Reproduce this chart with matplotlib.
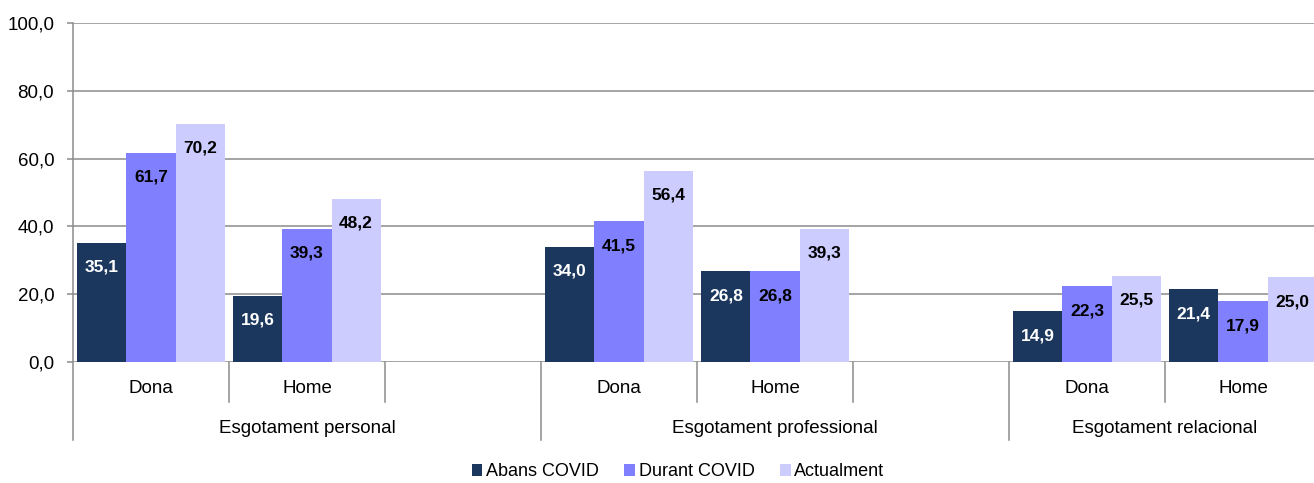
import matplotlib.pyplot as plt
import matplotlib.font_manager as fm
from matplotlib.patches import Patch
import numpy as np

# fonts: narrow Arial-like if available
names = {f.name for f in fm.fontManager.ttflist}
narrow = "Liberation Sans Narrow" if "Liberation Sans Narrow" in names else "Liberation Sans"
plt.rcParams['font.family'] = [narrow, 'DejaVu Sans']

groups = ["Esgotament personal", "Esgotament professional", "Esgotament relacional"]
subcats = ["Dona", "Home"]
series = ["Abans COVID", "Durant COVID", "Actualment"]
abans = [35.1, 19.6, 34.0, 26.8, 14.9, 21.4]
durant = [61.7, 39.3, 41.5, 26.8, 22.3, 17.9]
actual = [70.2, 48.2, 56.4, 39.3, 25.5, 25.0]
colors = ["#1B375E", "#8080FF", "#CCCCFF"]
label_colors = ["white", "black", "black"]
yticks = [0, 20, 40, 60, 80, 100]

fig = plt.figure(figsize=(13.14, 4.83), dpi=100)
W, H = 1314, 483
left, right, top, bottom = 73, 1321, 23, 362
ax = fig.add_axes([left / W, 1 - bottom / H, (right - left) / W, (bottom - top) / H])

# slot positions: each group uses Dona, Home + one empty slot
slots = [0, 1, 3, 4, 6, 7]
centers = np.array(slots) + 0.5
bw = 0.315
grid_c = "#8C8C8C"

for yv in yticks:
    ax.axhline(yv, color=grid_c, lw=1.1, zorder=0)

for k, (vals, c, lc) in enumerate(zip([abans, durant, actual], colors, label_colors)):
    xs = centers + (k - 1) * bw
    ax.bar(xs, vals, width=bw, color=c, zorder=2)
    for x, v in zip(xs, vals):
        ax.text(x, v - 7.2, f"{v:.1f}".replace(".", ","), ha="center", va="center",
                fontsize=12.5, fontweight="bold", color=lc, zorder=3)

ax.set_xlim(0, 8)
ax.set_ylim(0, 100)
for s in ax.spines.values():
    s.set_visible(False)
ax.set_xticks([])
ax.set_yticks(yticks)
ax.set_yticklabels([f"{v:.1f}".replace(".", ",") for v in yticks], fontsize=13.5)
ax.tick_params(axis="y", length=4.5, width=1.1, color=grid_c, pad=9)

# left axis line extending below
ax.plot([0, 0], [100, -23], color=grid_c, lw=1.1, clip_on=False)
# category dividers
for xd in range(1, 9):
    ybot = -23 if xd in (3, 6) else -11.8
    ax.plot([xd, xd], [0, ybot], color=grid_c, lw=1.1, clip_on=False)

for x, s in zip(centers, subcats * 3):
    ax.text(x, -7.7, s, ha="center", va="center", fontsize=13.5)
group_centers = [1.5, 4.5, 7.0]
for x, g in zip(group_centers, groups):
    ax.text(x, -19.5, g, ha="center", va="center", fontsize=13.5)

handles = [Patch(facecolor=c, edgecolor="none") for c in colors]
fig.legend(handles, series, loc="center", bbox_to_anchor=(0.516, 1 - 472 / H), ncol=3,
           frameon=False, fontsize=13, handlelength=0.6, handleheight=0.6,
           handletextpad=0.2, columnspacing=1.4)

fig.savefig("out.png", dpi=100)
